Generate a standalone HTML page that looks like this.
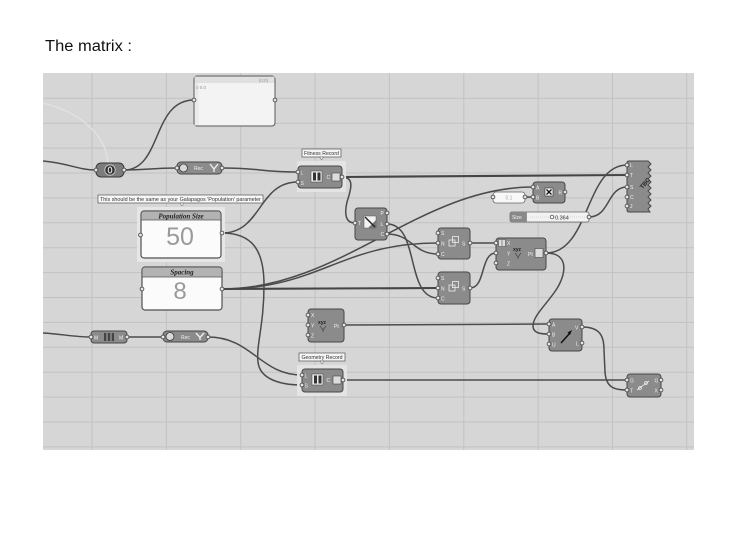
<!DOCTYPE html>
<html><head><meta charset="utf-8"><style>
html,body{margin:0;padding:0;background:#fff;}
svg{display:block;}
text{font-family:"Liberation Sans",sans-serif;}
</style></head><body>
<svg width="730" height="548" viewBox="0 0 730 548" xmlns="http://www.w3.org/2000/svg">
<defs>
<style>
.w{fill:none;stroke:#4b4b4b;stroke-width:1.5;}
.wt{fill:none;stroke:#454545;stroke-width:2.1;}
.c{fill:#8b8b8b;stroke:#474747;stroke-width:1;}
.t{font-size:5px;fill:#f2f2f2;}
.ser{font-family:"Liberation Serif",serif;font-style:italic;font-weight:bold;font-size:7px;fill:#222;}
</style>
<clipPath id="cv"><rect x="43" y="73" width="651" height="377"/></clipPath>
</defs>
<rect width="730" height="548" fill="#fff"/>
<text x="45" y="51" font-size="15.5" textLength="87" lengthAdjust="spacingAndGlyphs" fill="#111">The matrix :</text>

<!-- canvas -->
<rect x="43" y="73" width="651" height="377" fill="#d6d6d6"/>
<g clip-path="url(#cv)" stroke="#c2c2c2" stroke-width="1">
<line x1="92" y1="73" x2="92" y2="450"/>
<line x1="166.4" y1="73" x2="166.4" y2="450"/>
<line x1="240.7" y1="73" x2="240.7" y2="450"/>
<line x1="315" y1="73" x2="315" y2="450"/>
<line x1="389.4" y1="73" x2="389.4" y2="450"/>
<line x1="463.8" y1="73" x2="463.8" y2="450"/>
<line x1="538.1" y1="73" x2="538.1" y2="450"/>
<line x1="612.5" y1="73" x2="612.5" y2="450"/>
<line x1="686.8" y1="73" x2="686.8" y2="450"/>
<line x1="43" y1="98.3" x2="694" y2="98.3"/>
<line x1="43" y1="123.2" x2="694" y2="123.2"/>
<line x1="43" y1="148.1" x2="694" y2="148.1"/>
<line x1="43" y1="173" x2="694" y2="173"/>
<line x1="43" y1="197.9" x2="694" y2="197.9"/>
<line x1="43" y1="222.8" x2="694" y2="222.8"/>
<line x1="43" y1="247.7" x2="694" y2="247.7"/>
<line x1="43" y1="272.6" x2="694" y2="272.6"/>
<line x1="43" y1="297.5" x2="694" y2="297.5"/>
<line x1="43" y1="322.4" x2="694" y2="322.4"/>
<line x1="43" y1="347.3" x2="694" y2="347.3"/>
<line x1="43" y1="372.2" x2="694" y2="372.2"/>
<line x1="43" y1="397.1" x2="694" y2="397.1"/>
<line x1="43" y1="422" x2="694" y2="422"/>
<line x1="43" y1="446.9" x2="694" y2="446.9"/>
</g>

<!-- wires -->
<g clip-path="url(#cv)">
<path d="M43,103 C80,112 106,135 108,163" fill="none" stroke="#e2e2e2" stroke-width="1.3"/>
<path class="w" d="M43,161 C68,163 78,170 96,170"/>
<path class="w" d="M124,170 C162,170 152,100 194,100"/>
<path class="w" d="M124,170 C150,170 150,168 177,168"/>
<path class="w" d="M222,168 C262,168 258,172 298,172"/>
<path class="w" d="M222,233 C262,233 258,182 298,182"/>
<path class="w" d="M222,233 C252,233 264,250 264,285 C264,325 256,345 258,362 C260,380 282,385 302,385"/>
<path class="w" d="M222,289 C340,289 420,187 533,187"/>
<path class="w" d="M222,289 C320,289 340,243 438,243"/>
<path class="wt" d="M222,289 L438,288"/>
<path class="w" d="M342,177 C356,177 350,192 347,202 C344,215 346,223 355,223"/>
<path class="wt" d="M342,177 L627,175"/>
<path class="w" d="M387,234 C412,234 413,254 438,254"/>
<path class="w" d="M387,224 C420,224 405,298 438,298"/>
<path class="w" d="M344,325 L549,324"/>
<path class="w" d="M470,243 L496,243"/>
<path class="w" d="M470,288 C486,288 480,253 496,253"/>
<path class="w" d="M546,253 C590,253 585,165 627,165"/>
<path class="w" d="M546,253 C570,253 566,275 556,290 C546,305 533,316 533,326 C533,333 540,334 549,334"/>
<path class="w" d="M582,327 C600,327 604,336 604,350 L605,372 C606,386 612,390 627,390"/>
<path class="w" d="M589,217 C610,217 607,187 627,187"/>
<path class="w" d="M525,197 L533,197"/>
<path class="w" d="M43,333 C62,334 74,337 91,337"/>
<path class="w" d="M127,337 L163,337"/>
<path class="w" d="M208,337 C252,337 260,375 302,375"/>
<path class="w" d="M343,380 L627,380"/>
</g>

<!-- top panel -->
<rect x="194" y="76" width="81" height="50" rx="3" fill="#f3f3f3" stroke="#5a5a5a" stroke-width="1"/>
<rect x="194.5" y="76.5" width="80" height="6.5" fill="#e0e0e0"/>
<rect x="194.5" y="83" width="4" height="42.5" fill="#e9e9e9"/>
<text x="268" y="81.8" font-size="4.5" fill="#999" text-anchor="end">{0;0}</text>
<text x="196" y="89" font-size="4.5" fill="#999">0  0.0</text>

<!-- (0) component -->
<rect x="96" y="163" width="28" height="14" rx="5" fill="#7c7c7c" stroke="#3a3a3a"/>
<circle cx="110" cy="170" r="5.2" fill="#333" stroke="#cfcfcf" stroke-width="0.8"/>
<ellipse cx="110" cy="170" rx="1.8" ry="3" fill="none" stroke="#eee" stroke-width="1"/>

<!-- Rec 1 -->
<rect x="177" y="162" width="45" height="12" rx="4" class="c"/>
<circle cx="183.5" cy="168" r="4" fill="#d9d9d9" stroke="#3a3a3a" stroke-width="0.8"/>
<text x="194" y="170" class="t">Rec</text>
<path d="M210,164 L214,169 L218,164 M214,169 L214,172" fill="none" stroke="#eee" stroke-width="1.4"/>

<!-- Fitness Record -->
<rect x="297" y="161" width="49" height="31" fill="#e4e4e4"/>
<rect x="298" y="166" width="44" height="22" rx="3" class="c"/>
<text x="300.5" y="174.5" class="t">L</text>
<text x="300.5" y="185" class="t">S</text>
<rect x="311" y="171" width="11" height="11" fill="#ececec" stroke="#444" stroke-width="0.5"/>
<rect x="313" y="172.5" width="3" height="8" fill="#333"/>
<rect x="317.5" y="172.5" width="3" height="8" fill="#333"/>
<text x="326.5" y="179" class="t">C</text>
<rect x="332" y="173" width="8" height="8" fill="#dcdcdc" stroke="#444" stroke-width="0.6"/>
<rect x="302" y="149" width="39" height="8" fill="#f5f5f5" stroke="#555" stroke-width="0.7"/>
<path d="M319.5,157 L321.5,160 L323.5,157 Z" fill="#f5f5f5" stroke="#555" stroke-width="0.5"/>
<text x="321.5" y="155.2" font-size="5.2" fill="#333" text-anchor="middle">Fitness Record</text>

<!-- Gradient -->
<rect x="355" y="208" width="32" height="32" rx="3" class="c"/>
<text x="358" y="225" class="t">T</text>
<text x="380.5" y="215" class="t">P</text>
<text x="380.5" y="226" class="t">L</text>
<text x="380.5" y="236" class="t">C</text>
<rect x="364" y="216" width="12" height="12" fill="#f3f3f3" stroke="#555" stroke-width="0.5"/>
<path d="M376,220 L376,228 L368,228 Z" fill="#777"/>
<line x1="365" y1="217" x2="375" y2="227" stroke="#222" stroke-width="1.4"/>

<!-- SNC 1 -->
<rect x="438" y="228" width="32" height="31" rx="3" class="c"/>
<text x="441" y="235" class="t">S</text>
<text x="441" y="245.5" class="t">N</text>
<text x="441" y="256" class="t">C</text>
<text x="462" y="245.5" class="t">S</text>
<rect x="449" y="240" width="6" height="6" fill="none" stroke="#eee" stroke-width="0.8"/>
<rect x="452.5" y="236.5" width="6" height="6" fill="none" stroke="#eee" stroke-width="0.8"/>

<!-- SNC 2 -->
<rect x="438" y="272" width="32" height="32" rx="3" class="c"/>
<text x="441" y="280" class="t">S</text>
<text x="441" y="290.5" class="t">N</text>
<text x="441" y="300.5" class="t">C</text>
<text x="462" y="290.5" class="t">S</text>
<rect x="449" y="285" width="6" height="6" fill="none" stroke="#eee" stroke-width="0.8"/>
<rect x="452.5" y="281.5" width="6" height="6" fill="none" stroke="#eee" stroke-width="0.8"/>

<!-- Construct Point 1 -->
<rect x="496" y="238" width="50" height="32" rx="3" class="c"/>
<rect x="498.5" y="239.5" width="7" height="7" fill="#ddd" stroke="#444" stroke-width="0.5"/>
<line x1="502" y1="240" x2="502" y2="246" stroke="#555" stroke-width="0.6"/>
<text x="507" y="245" class="t">X</text>
<text x="507" y="255.5" class="t">Y</text>
<text x="507" y="265.5" class="t">Z</text>
<text x="513" y="251" font-size="5" fill="#222" font-weight="bold">xyz</text>
<path d="M515,253 L518,257 L521,253 M518,257 L518,259" fill="none" stroke="#333" stroke-width="0.6"/>
<text x="528" y="256" class="t">Pt</text>
<rect x="535" y="248.5" width="8" height="9" fill="#dcdcdc" stroke="#444" stroke-width="0.6"/>

<!-- Multiply -->
<rect x="533" y="182" width="32" height="21" rx="3" class="c"/>
<text x="536" y="189.5" class="t">A</text>
<text x="536" y="199.5" class="t">B</text>
<text x="558.5" y="194.5" class="t">R</text>
<rect x="545" y="188" width="8" height="8" fill="#f3f3f3" stroke="#333" stroke-width="0.6"/>
<path d="M546.5,189.5 L551.5,194.5 M551.5,189.5 L546.5,194.5" stroke="#111" stroke-width="1.3"/>

<!-- Panel 0.1 -->
<rect x="493" y="192" width="32" height="11" rx="3" fill="#f8f8f8" stroke="#666" stroke-width="0.8"/>
<text x="509" y="199.5" font-size="5" fill="#aaa" text-anchor="middle">0.1</text>

<!-- Size slider -->
<rect x="510" y="212" width="79" height="10" rx="2" fill="#f2f2f2" stroke="#666" stroke-width="0.8"/>
<rect x="510.4" y="212.4" width="16.5" height="9.2" fill="#8a8a8a"/>
<text x="512" y="219" class="t">Size</text>
<line x1="530" y1="217" x2="586" y2="217" stroke="#bbb" stroke-width="0.6" stroke-dasharray="1 1"/>
<circle cx="552" cy="217" r="1.8" fill="#fff" stroke="#333" stroke-width="0.7"/>
<text x="555" y="219.5" font-size="5.5" fill="#333">0.364</text>

<!-- TBC -->
<path d="M627,163 Q627,161 629,161 L648,161 L651,164 L648,167 L651,170 L648,173 L651,176 L648,179 L651,182 L648,185 L651,188 L648,191 L651,194 L648,197 L651,200 L648,203 L651,206 L648,209 L650,212 L629,212 Q627,212 627,210 Z" class="c"/>
<text x="630" y="167" class="t">L</text>
<text x="630" y="177" class="t">T</text>
<text x="630" y="189" class="t">S</text>
<text x="630" y="199" class="t">C</text>
<text x="630" y="208" class="t">J</text>
<text x="641" y="190" font-size="6" font-weight="bold" fill="#222" transform="rotate(-50 641 188)">TBC</text>

<!-- Construct Point 2 -->
<rect x="308" y="309" width="36" height="33" rx="3" class="c"/>
<text x="311" y="317" class="t">X</text>
<text x="311" y="327.5" class="t">Y</text>
<text x="311" y="337.5" class="t">Z</text>
<text x="318" y="324" font-size="5" fill="#222" font-weight="bold">xyz</text>
<path d="M320,326 L323,330 L326,326 M323,330 L323,332" fill="none" stroke="#333" stroke-width="0.6"/>
<text x="334" y="328" class="t">Pt</text>

<!-- Geometry Record -->
<rect x="297" y="365" width="50" height="31" fill="#e4e4e4"/>
<rect x="302" y="369" width="41" height="23" rx="3" class="c"/>
<text x="304.5" y="377.5" class="t">L</text>
<text x="304.5" y="387.5" class="t">S</text>
<rect x="312" y="374" width="11" height="11" fill="#ececec" stroke="#444" stroke-width="0.5"/>
<rect x="314" y="375.5" width="3" height="8" fill="#333"/>
<rect x="318.5" y="375.5" width="3" height="8" fill="#333"/>
<text x="326.5" y="382" class="t">C</text>
<rect x="333" y="376" width="8" height="8" fill="#dcdcdc" stroke="#444" stroke-width="0.6"/>
<rect x="299" y="353" width="46" height="8" fill="#f5f5f5" stroke="#555" stroke-width="0.7"/>
<path d="M320,361 L322,364 L324,361 Z" fill="#f5f5f5" stroke="#555" stroke-width="0.5"/>
<text x="322" y="359.2" font-size="5.2" fill="#333" text-anchor="middle">Geometry Record</text>

<!-- Vector 2Pt -->
<rect x="549" y="319" width="33" height="32" rx="3" class="c"/>
<text x="552" y="326.5" class="t">A</text>
<text x="552" y="336.5" class="t">B</text>
<text x="552" y="346.5" class="t">U</text>
<text x="575" y="329.5" class="t">V</text>
<text x="576" y="345.5" class="t">L</text>
<line x1="561" y1="343" x2="570" y2="333" stroke="#111" stroke-width="1.5"/>
<path d="M572,330 L567.5,332.5 L570,335 Z" fill="#111"/>

<!-- Final component -->
<rect x="627" y="374" width="34" height="23" rx="3" class="c"/>
<text x="630" y="382.5" class="t">G</text>
<text x="630" y="392.5" class="t">T</text>
<text x="654.5" y="382.5" class="t">G</text>
<text x="654.5" y="392.5" class="t">X</text>
<line x1="637" y1="390" x2="649" y2="381" stroke="#eee" stroke-width="0.8"/>
<circle cx="640" cy="388" r="1.5" fill="none" stroke="#eee" stroke-width="0.7"/>
<circle cx="646" cy="383" r="1.5" fill="none" stroke="#eee" stroke-width="0.7"/>

<!-- M component -->
<rect x="91" y="331" width="36" height="12" rx="3" class="c"/>
<text x="94" y="339.5" class="t">M</text>
<text x="119" y="339.5" class="t">M</text>
<rect x="104" y="333" width="10" height="8" fill="#444"/>
<line x1="107" y1="333" x2="107" y2="341" stroke="#ddd" stroke-width="0.7"/>
<line x1="111" y1="333" x2="111" y2="341" stroke="#ddd" stroke-width="0.7"/>

<!-- Rec 2 -->
<rect x="163" y="331" width="45" height="11" rx="4" class="c"/>
<circle cx="170" cy="336.5" r="4" fill="#d9d9d9" stroke="#3a3a3a" stroke-width="0.8"/>
<text x="181" y="339" class="t">Rec</text>
<path d="M196,333 L200,337.5 L204,333 M200,337.5 L200,340" fill="none" stroke="#eee" stroke-width="1.4"/>

<!-- Population Size -->
<rect x="137" y="207" width="88" height="55" fill="#e6e6e6"/>
<rect x="141" y="211" width="80" height="47" rx="3" fill="#fbfbfb" stroke="#505050" stroke-width="1.2"/>
<path d="M141.6,220 L141.6,214 Q141.6,211.6 144,211.6 L218,211.6 Q220.4,211.6 220.4,214 L220.4,220 Z" fill="#b3b3b3"/>
<line x1="141.6" y1="220" x2="220.4" y2="220" stroke="#555" stroke-width="0.8"/>
<text x="181" y="218.3" class="ser" text-anchor="middle">Population Size</text>
<text x="180" y="245" font-size="25" fill="#9a9a9a" text-anchor="middle">50</text>

<!-- Spacing -->
<rect x="142" y="267" width="80" height="43" rx="3" fill="#fbfbfb" stroke="#505050" stroke-width="1.2"/>
<path d="M142.6,277 L142.6,270 Q142.6,267.6 145,267.6 L219,267.6 Q221.4,267.6 221.4,270 L221.4,277 Z" fill="#b3b3b3"/>
<line x1="142.6" y1="277" x2="221.4" y2="277" stroke="#555" stroke-width="0.8"/>
<text x="182" y="274.5" class="ser" text-anchor="middle">Spacing</text>
<text x="180" y="299" font-size="24" fill="#9a9a9a" text-anchor="middle">8</text>

<!-- Population tooltip -->
<rect x="98" y="195" width="165" height="8" fill="#f7f7f7" stroke="#555" stroke-width="0.7"/>
<path d="M180,203 L182,206 L184,203 Z" fill="#f7f7f7" stroke="#555" stroke-width="0.5"/>
<text x="100" y="201.2" font-size="5.3" fill="#333" textLength="161" lengthAdjust="spacingAndGlyphs">This should be the same as your Galapagos 'Population' parameter</text>

<!-- grips -->
<g fill="#e6e6e6" stroke="#3d3d3d" stroke-width="0.8">
<circle cx="96" cy="170" r="1.9"/><circle cx="124" cy="170" r="1.9"/>
<circle cx="177" cy="168" r="1.9"/><circle cx="222" cy="168" r="1.9"/>
<circle cx="194" cy="100" r="1.9"/><circle cx="275" cy="100" r="1.9"/>
<circle cx="298" cy="172" r="1.9"/><circle cx="298" cy="182" r="1.9"/><circle cx="342" cy="177" r="1.9"/>
<circle cx="355" cy="223" r="1.9"/><circle cx="387" cy="213" r="1.9"/><circle cx="387" cy="224" r="1.9"/><circle cx="387" cy="234" r="1.9"/>
<circle cx="438" cy="233" r="1.9"/><circle cx="438" cy="243" r="1.9"/><circle cx="438" cy="254" r="1.9"/><circle cx="470" cy="243" r="1.9"/>
<circle cx="438" cy="278" r="1.9"/><circle cx="438" cy="288" r="1.9"/><circle cx="438" cy="298" r="1.9"/><circle cx="470" cy="288" r="1.9"/>
<circle cx="496" cy="243" r="1.9"/><circle cx="496" cy="253" r="1.9"/><circle cx="496" cy="263" r="1.9"/><circle cx="546" cy="253" r="1.9"/>
<circle cx="533" cy="187" r="1.9"/><circle cx="533" cy="197" r="1.9"/><circle cx="565" cy="192" r="1.9"/>
<circle cx="493" cy="197" r="1.9"/><circle cx="525" cy="197" r="1.9"/>
<circle cx="589" cy="217" r="1.9"/>
<circle cx="627" cy="165" r="1.9"/><circle cx="627" cy="175" r="1.9"/><circle cx="627" cy="187" r="1.9"/><circle cx="627" cy="197" r="1.9"/><circle cx="627" cy="206" r="1.9"/>
<circle cx="308" cy="315" r="1.9"/><circle cx="308" cy="325" r="1.9"/><circle cx="308" cy="335" r="1.9"/><circle cx="344" cy="325" r="1.9"/>
<circle cx="302" cy="375" r="1.9"/><circle cx="302" cy="385" r="1.9"/><circle cx="343" cy="380" r="1.9"/>
<circle cx="549" cy="324" r="1.9"/><circle cx="549" cy="334" r="1.9"/><circle cx="549" cy="344" r="1.9"/><circle cx="582" cy="327" r="1.9"/><circle cx="582" cy="343" r="1.9"/>
<circle cx="627" cy="380" r="1.9"/><circle cx="627" cy="390" r="1.9"/><circle cx="661" cy="380" r="1.9"/><circle cx="661" cy="390" r="1.9"/>
<circle cx="91" cy="337" r="1.9"/><circle cx="127" cy="337" r="1.9"/>
<circle cx="163" cy="337" r="1.9"/><circle cx="208" cy="337" r="1.9"/>
<circle cx="140.5" cy="235" r="1.9"/><circle cx="222" cy="233" r="1.9"/>
<circle cx="142" cy="289" r="1.9"/><circle cx="222" cy="289" r="1.9"/>
</g>
</svg>
</body></html>
